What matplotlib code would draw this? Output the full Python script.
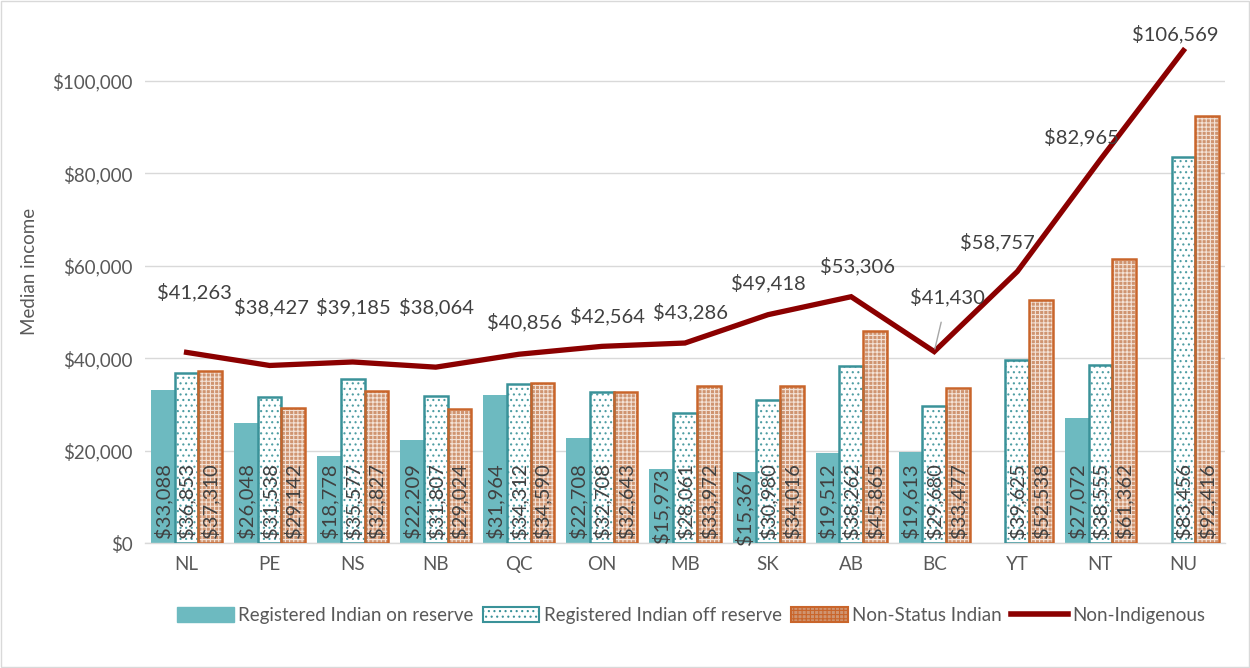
import numpy as np
import matplotlib
matplotlib.use("Agg")
import matplotlib.pyplot as plt
from matplotlib.patches import Patch, Rectangle
from matplotlib.lines import Line2D
from matplotlib.ticker import FuncFormatter, MultipleLocator

plt.rcParams['font.family'] = ['Lato', 'DejaVu Sans']
plt.rcParams['hatch.linewidth'] = 0.8

# data
provinces = ['NL', 'PE', 'NS', 'NB', 'QC', 'ON', 'MB', 'SK', 'AB', 'BC', 'YT', 'NT', 'NU']
on_reserve = [33088, 26048, 18778, 22209, 31964, 22708, 15973, 15367, 19512, 19613, np.nan, 27072, np.nan]
off_reserve = [36853, 31538, 35577, 31807, 34312, 32708, 28061, 30980, 38262, 29680, 39625, 38555, 83456]
non_status = [37310, 29142, 32827, 29024, 34590, 32643, 33972, 34016, 45865, 33477, 52538, 61362, 92416]
non_indigenous = [41263, 38427, 39185, 38064, 40856, 42564, 43286, 49418, 53306, 41430, 58757, 82965, 106569]

# where the line labels sit, in pixels from their point
line_label_offsets = [(8, 60), (2, 58), (1, 55), (1, 60), (6, 32), (6, 30), (6, 31),
                      (0, 32), (6, 31), (13, 55), (-20, 29), (-19, 23), (-8, 16)]

teal = '#6DBAC0'
teal_dark = '#3A9299'
teal_dots = '#4E9DA3'
orange = '#C9652B'
orange_fill = '#CF9470'
dark_red = '#8B0000'
txt = '#404040'
fs = 14.5

fig = plt.figure(figsize=(12.5, 6.68), dpi=100)
ax = fig.add_axes([0.116, 0.187, 0.864, 0.813])

x = np.arange(len(provinces))
w = 0.285

# on reserve: solid teal
ax.bar(x - w, on_reserve, w, color=teal, zorder=2)
# off reserve: white with sparse teal dots
ax.bar(x, off_reserve, w, color='white', edgecolor=teal_dots, hatch='...', linewidth=0, zorder=2)
ax.bar(x, off_reserve, w, fill=False, edgecolor=teal_dark, linewidth=1.8, zorder=3)
# non-status: orange check pattern
ax.bar(x + w, non_status, w, color=orange_fill, edgecolor='#F3E2D6', hatch='++++', linewidth=0, zorder=2)
ax.bar(x + w, non_status, w, fill=False, edgecolor=orange, linewidth=1.8, zorder=3)

# line
ax.plot(x, non_indigenous, color=dark_red, linewidth=3.8, zorder=4, solid_joinstyle='miter')

# bar labels
for offs, vals in [(-w, on_reserve), (0, off_reserve), (w, non_status)]:
    for xi, v in zip(x, vals):
        if np.isnan(v):
            continue
        s = '${:,.0f}'.format(v)
        if v < 18000:
            ax.text(xi + offs, v / 2, s, rotation=90, ha='center', va='center',
                    fontsize=fs, color=txt, zorder=5)
        else:
            ax.annotate(s, (xi + offs, 0), xytext=(0, 5), textcoords='offset pixels',
                        rotation=90, ha='center', va='bottom', fontsize=fs, color=txt, zorder=5)

# line labels
for i, v in enumerate(non_indigenous):
    dx, dy = line_label_offsets[i]
    s = '${:,.0f}'.format(v)
    if provinces[i] == 'BC':
        ax.annotate(s, (x[i], v), xytext=(dx, dy), textcoords='offset pixels',
                    ha='center', va='center', fontsize=fs, color=txt, zorder=5,
                    arrowprops=dict(arrowstyle='-', color='#A6A6A6', lw=1,
                                    shrinkA=10, shrinkB=2))
    else:
        ax.annotate(s, (x[i], v), xytext=(dx, dy), textcoords='offset pixels',
                    ha='center', va='center', fontsize=fs, color=txt, zorder=5)

ax.set_xlim(-0.5, len(provinces) - 0.5)
ax.set_ylim(0, 117500)
ax.yaxis.set_major_locator(MultipleLocator(20000))
ax.yaxis.set_major_formatter(FuncFormatter(lambda v, p: '${:,.0f}'.format(v)))
ax.set_xticks(x)
ax.set_xticklabels(provinces)
ax.tick_params(axis='both', length=0, labelsize=13.5, colors='#595959', pad=9)
ax.set_ylabel('Median income', fontsize=13.5, color='#595959', labelpad=10)
ax.grid(axis='y', color='#D9D9D9', linewidth=1, zorder=0)
ax.set_axisbelow(True)
for side in ['top', 'right', 'left']:
    ax.spines[side].set_visible(False)
ax.spines['bottom'].set_color('#D9D9D9')
ax.spines['bottom'].set_linewidth(1)

handles = [
    Patch(facecolor=teal, edgecolor=teal, label='Registered Indian on reserve'),
    Patch(facecolor='white', edgecolor=teal_dark, hatch='...', linewidth=1.5,
          label='Registered Indian off reserve'),
    Patch(facecolor=orange_fill, edgecolor=orange, hatch='++++', linewidth=1.5,
          label='Non-Status Indian'),
    Line2D([0], [0], color=dark_red, linewidth=4, label='Non-Indigenous'),
]
ax.legend(handles=handles, loc='center', bbox_to_anchor=(0.553, 0.079),
          bbox_transform=fig.transFigure, ncol=4, frameon=False, fontsize=13.5,
          labelcolor='#595959', handlelength=3.0, handleheight=0.9,
          handletextpad=0.25, columnspacing=0.5)

fig.patches.append(Rectangle((0.001, 0.001), 0.998, 0.998, transform=fig.transFigure,
                             fill=False, edgecolor='#D9D9D9', linewidth=1))

fig.savefig('out.png', dpi=100)
